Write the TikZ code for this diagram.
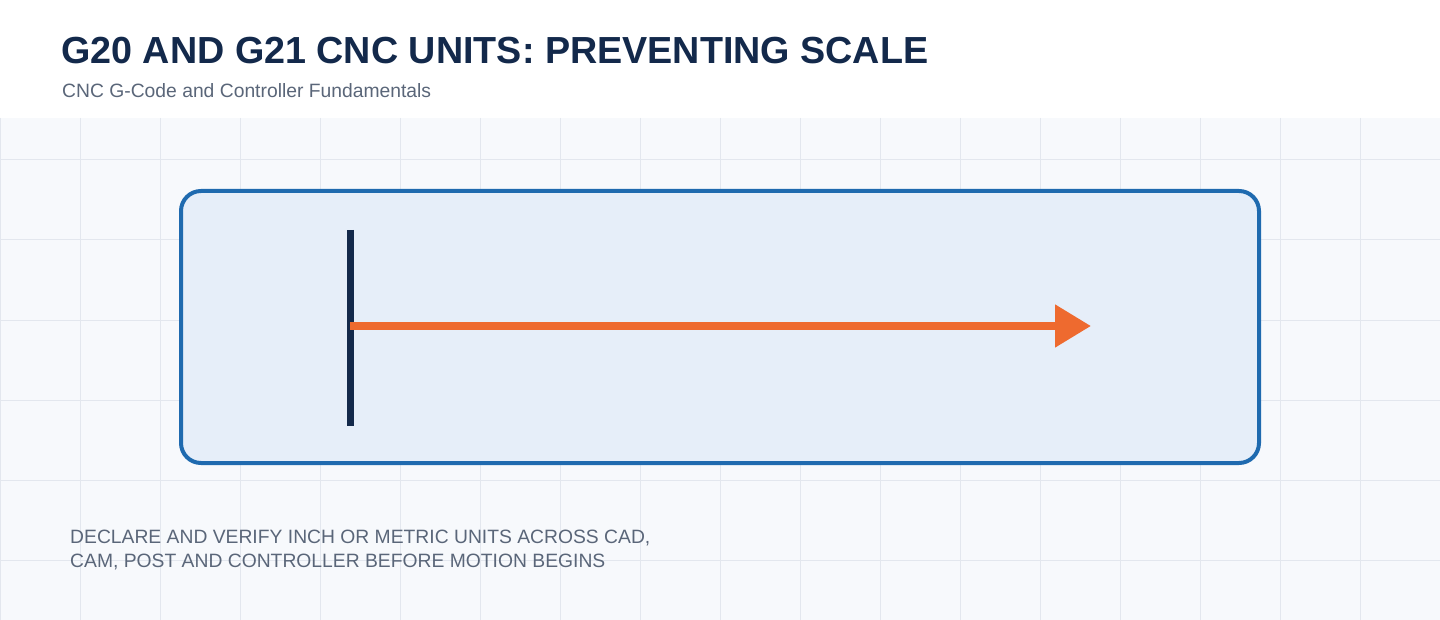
\documentclass[tikz,border=0pt]{standalone}
\usepackage{fontspec}
\setmainfont{Liberation Sans}
\usetikzlibrary{arrows.meta}
\definecolor{inkblue}{HTML}{13294B}
\definecolor{slate}{HTML}{5A6679}
\definecolor{gridbg}{HTML}{F7F9FC}
\definecolor{gridln}{HTML}{E3E7EE}
\definecolor{panelfill}{HTML}{E6EEF9}
\definecolor{paneldraw}{HTML}{1F6AAF}
\definecolor{feedorange}{HTML}{EE6A2F}
\tikzset{
  gridline/.style={draw=gridln, line width=1pt},
  panel/.style={draw=paneldraw, fill=panelfill, line width=4pt, rounded corners=20pt},
  datum/.style={draw=inkblue, line width=7pt},
  travel/.style={draw=feedorange, line width=8pt, -{Triangle[length=36pt,width=41pt]}},
}

\begin{document}
\begin{tikzpicture}[x=1pt,y=-1pt]
	\useasboundingbox (0,0) rectangle (1440,620);
	\fill[white] (0,0) rectangle (1440,118);
	\fill[gridbg] (0,118) rectangle (1440,620);
	
	% background grid
	\foreach \x in {0,80,...,1440}
		\draw[gridline] (\x,118) -- (\x,620);
	\foreach \y in {160,240,...,560}
		\draw[gridline] (0,\y) -- (1440,\y);
	
	% heading
	\node[anchor=base west, inner sep=0, text=inkblue, font=\fontsize{37.7}{42}\selectfont\bfseries] (title) at (61,64) {G20 AND G21 CNC UNITS: PREVENTING SCALE};
	\node[anchor=base west, inner sep=0, text=slate, font=\fontsize{19.3}{22}\selectfont] (subtitle) at (62,98) {CNC G-Code and Controller Fundamentals};
	
	% work panel
	\draw[panel] (181,191) rectangle (1259,463);
	
	% zero datum and travel
	\coordinate (bartop) at (350.5,230);
	\coordinate (barbot) at (350.5,426);
	\coordinate (origin) at (350,326);
	\coordinate (tip) at (1091,326);
	\draw[datum] (bartop) -- (barbot);
	\draw[travel] (origin) -- (tip);
	
	% note
	\node[anchor=base west, inner sep=0, text=slate, align=left, font=\fontsize{19.3}{24}\selectfont] (note) at (70,567) {DECLARE AND VERIFY INCH OR METRIC UNITS ACROSS CAD,\\CAM, POST AND CONTROLLER BEFORE MOTION BEGINS};
\end{tikzpicture}
\end{document}
